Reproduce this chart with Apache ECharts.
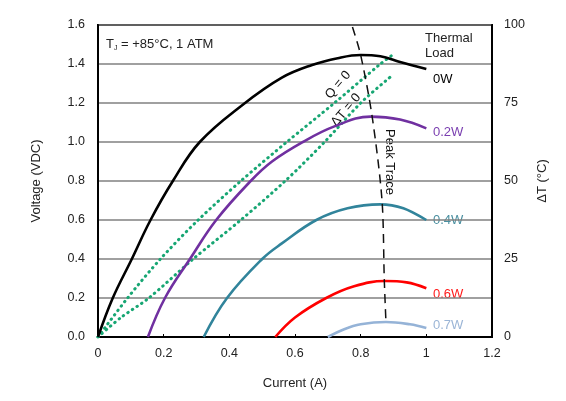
<!DOCTYPE html>
<html>
<head>
<meta charset="utf-8">
<script src="https://cdn.jsdelivr.net/npm/echarts@6/dist/echarts.min.js"></script>
<style>
  html, body { margin: 0; padding: 0; background: #fff; }
  #chart { width: 566px; height: 401px; }
</style>
</head>
<body>
<div id="chart"></div>
<script>
// curves, current (A) vs voltage (V)
var load0Wx = [0, 0.045, 0.103, 0.16, 0.228, 0.31, 0.44, 0.56, 0.652, 0.73, 0.80, 0.86, 0.92, 1.0];
var load0Wy = [0, 0.2, 0.4, 0.6, 0.8, 1.0, 1.19, 1.33, 1.395, 1.43, 1.446, 1.44, 1.41, 1.374];
var load02x = [0.152, 0.204, 0.28, 0.36, 0.465, 0.53, 0.624, 0.72, 0.83, 0.92, 1.0];
var load02y = [0, 0.2, 0.4, 0.6, 0.8, 0.9, 1.0, 1.08, 1.13, 1.115, 1.07];
var load04x = [0.322, 0.393, 0.5, 0.56, 0.665, 0.76, 0.86, 0.93, 1.0];
var load04y = [0, 0.2, 0.4, 0.48, 0.6, 0.66, 0.68, 0.66, 0.6];
var load06x = [0.54, 0.6, 0.695, 0.78, 0.874, 0.94, 1.0];
var load06y = [0, 0.1, 0.2, 0.26, 0.287, 0.28, 0.25];
var load07x = [0.7, 0.75, 0.8, 0.877, 0.95, 1.0];
var load07y = [0, 0.04, 0.065, 0.077, 0.065, 0.046];
var qZeroX = [0, 0.09, 0.19, 0.305, 0.435, 0.575, 0.72, 0.86, 0.9];
var qZeroY = [0, 0.2, 0.4, 0.6, 0.8, 1.0, 1.2, 1.4, 1.45];
var dtZeroX = [0, 0.07, 0.155, 0.29, 0.435, 0.57, 0.69, 0.80, 0.89];
var dtZeroY = [0, 0.1, 0.2, 0.4, 0.6, 0.8, 1.0, 1.2, 1.333];
var peakX = [0.775, 0.80, 0.835, 0.865, 0.872, 0.877];
var peakY = [1.59, 1.446, 1.13, 0.7, 0.29, 0.077];

var loadNames = ['0W', '0.2W', '0.4W', '0.6W', '0.7W'];
var loadColors = ['#000000', '#7030a0', '#31849b', '#ff0000', '#95b3d7'];
var labelColors = ['#000000', '#7a3fb0', '#4a8fa0', '#ff1a1a', '#9bb5d6'];

function pairs(xs, ys) {
    return xs.map(function (x, i) { return [x, ys[i]]; });
}

var font = 'Liberation Sans, Arial, sans-serif';
var chart = echarts.init(document.getElementById('chart'));

var curves = [
    [load0Wx, load0Wy], [load02x, load02y], [load04x, load04y],
    [load06x, load06y], [load07x, load07y]
];
var series = [];
// green lines first so the load curves sit on top
series.push({
    type: 'line', data: pairs(qZeroX, qZeroY), smooth: 0.3, showSymbol: false,
    lineStyle: { color: '#17a673', width: 3, type: [0.5, 5], cap: 'round' }
});
series.push({
    type: 'line', data: pairs(dtZeroX, dtZeroY), smooth: 0.3, showSymbol: false,
    lineStyle: { color: '#17a673', width: 3, type: [0.5, 5], cap: 'round' }
});
curves.forEach(function (c, i) {
    series.push({
        name: loadNames[i], type: 'line', data: pairs(c[0], c[1]),
        smooth: 0.4, showSymbol: false,
        lineStyle: { color: loadColors[i], width: 2.6 }
    });
});
series.push({
    type: 'line', data: pairs(peakX, peakY), smooth: 0.3, showSymbol: false,
    lineStyle: { color: '#111', width: 1.5, type: [9, 6] }
});

function txt(x, y, s, color, opts) {
    var o = {
        type: 'text', x: x, y: y, silent: true,
        style: Object.assign({ text: s, fill: color || '#222', font: '13px ' + font,
            verticalAlign: 'middle' }, (opts && opts.style) || {})
    };
    if (opts && opts.rotation !== undefined) o.rotation = opts.rotation;
    return o;
}

var graphic = [
    {
        type: 'text', x: 106, y: 44, silent: true,
        style: {
            text: 'T{s|J} = +85°C, 1 ATM', fill: '#222', font: '13px ' + font,
            verticalAlign: 'middle',
            rich: { s: { fontSize: 7, fontFamily: font, padding: [8, 0, 0, 0], fill: '#222' } }
        }
    },
    txt(425, 38, 'Thermal'),
    txt(425, 53, 'Load'),
    txt(433, 79, loadNames[0], labelColors[0]),
    txt(433, 132, loadNames[1], labelColors[1]),
    txt(433, 220, loadNames[2], labelColors[2]),
    txt(433, 294, loadNames[3], labelColors[3]),
    txt(433, 325, loadNames[4], labelColors[4]),
    txt(390, 162, 'Peak Trace', '#111', { rotation: -Math.PI / 2, style: { align: 'center' } }),
    txt(338, 85, 'Q = 0', '#111', { rotation: Math.PI * 50 / 180, style: { align: 'center' } }),
    txt(346, 110, '\u0394T = 0', '#111', { rotation: Math.PI * 50 / 180, style: { align: 'center' } })
];

chart.setOption({
    animation: false,
    backgroundColor: '#fff',
    grid: { left: 98, right: 74, top: 25, bottom: 64, show: true, borderColor: '#000', borderWidth: 2 },
    xAxis: {
        type: 'value', min: 0, max: 1.2, interval: 0.2,
        name: 'Current (A)', nameLocation: 'middle', nameGap: 40,
        nameTextStyle: { color: '#222', fontSize: 13, fontFamily: font },
        axisLine: { lineStyle: { color: '#000', width: 2 } },
        axisTick: { show: true, inside: true, length: 3, lineStyle: { color: '#000' } },
        axisLabel: { color: '#222', fontSize: 12.5, fontFamily: font, margin: 10 },
        splitLine: { show: false }
    },
    yAxis: [{
        type: 'value', min: 0, max: 1.6, interval: 0.2,
        name: 'Voltage (VDC)', nameLocation: 'middle', nameGap: 55,
        nameTextStyle: { color: '#222', fontSize: 13, fontFamily: font },
        axisLine: { show: true, lineStyle: { color: '#000', width: 2 } },
        axisTick: { show: false },
        axisLabel: { color: '#222', fontSize: 12.5, fontFamily: font, margin: 13,
            formatter: function (v) { return v.toFixed(1); } },
        splitLine: { show: true, lineStyle: { color: '#808080', width: 1.5 } }
    }, {
        type: 'value', min: 0, max: 100, interval: 25, position: 'right',
        name: '\u0394T (°C)', nameLocation: 'middle', nameGap: 38,
        nameTextStyle: { color: '#222', fontSize: 13, fontFamily: font },
        axisLine: { show: true, lineStyle: { color: '#000', width: 2 } },
        axisTick: { show: false },
        axisLabel: { color: '#222', fontSize: 12.5, fontFamily: font, margin: 12 },
        splitLine: { show: false }
    }],
    series: series,
    graphic: graphic
});
</script>
</body>
</html>
